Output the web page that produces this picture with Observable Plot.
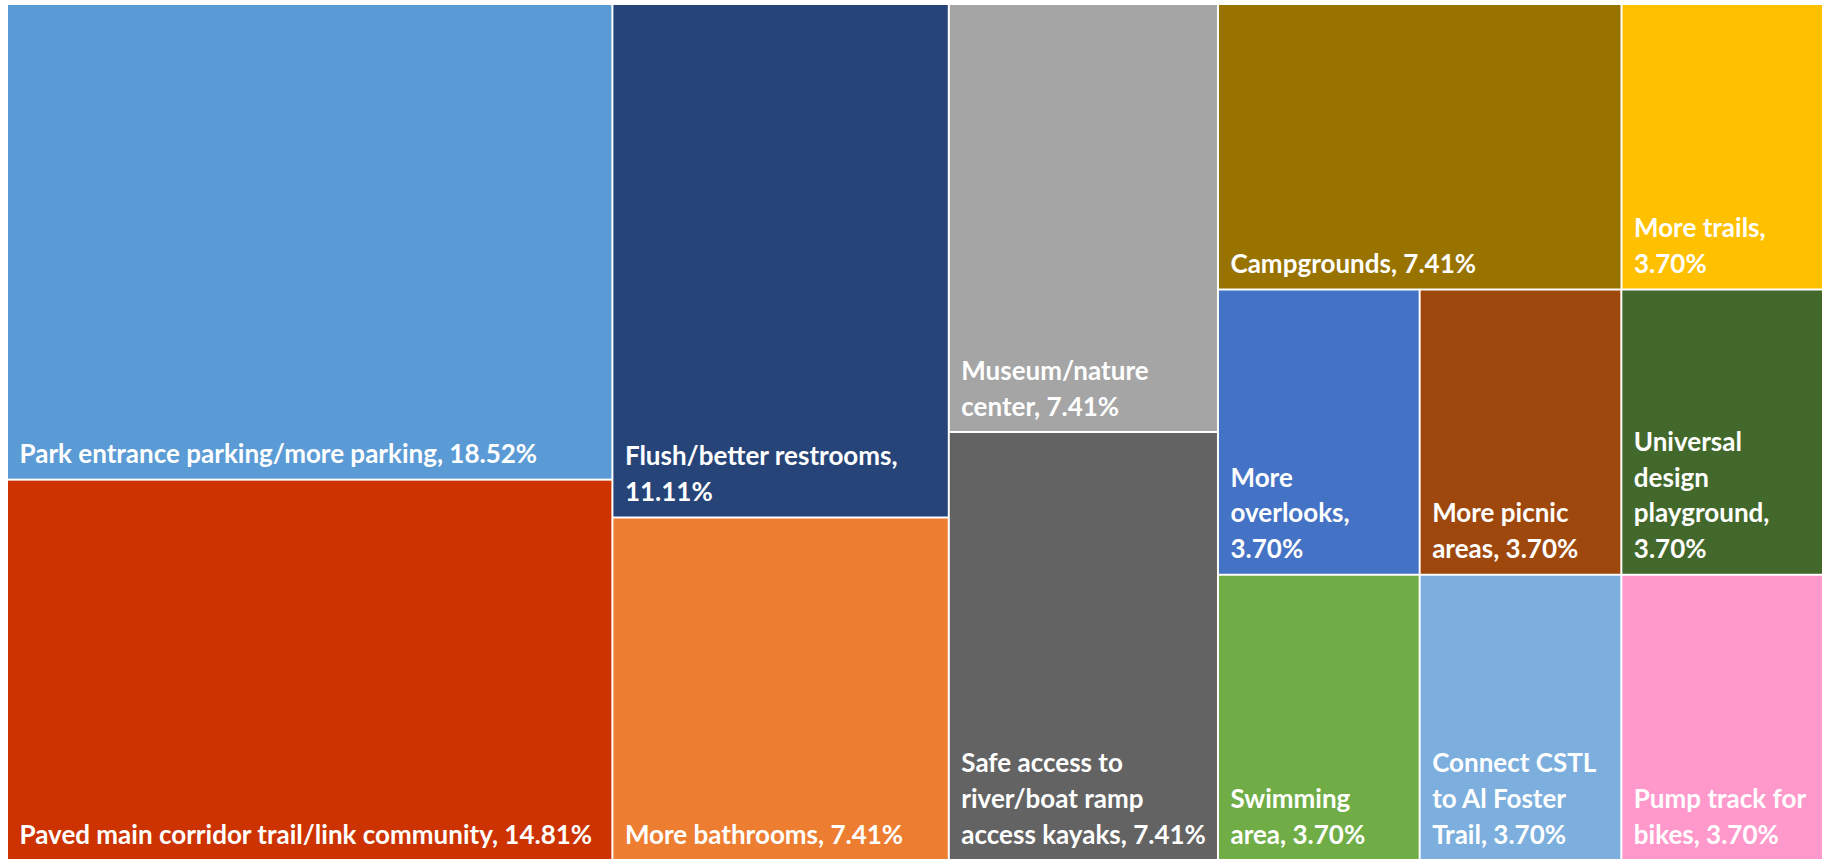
<!DOCTYPE html>
<html><head><meta charset="utf-8">
<script src="https://cdn.jsdelivr.net/npm/d3@7"></script>
<script src="https://cdn.jsdelivr.net/npm/@observablehq/plot@0.6"></script>
<style>html,body{margin:0;padding:0;background:#fff;overflow:hidden}</style>
</head><body><div id="chart"></div>
<script>
// Categories in treemap order, with their share (%) of responses
const categories = [
  "Park entrance parking/more parking",
  "Paved main corridor trail/link community",
  "Flush/better restrooms",
  "More bathrooms",
  "Museum/nature center",
  "Safe access to river/boat ramp access kayaks",
  "Campgrounds",
  "More trails",
  "More overlooks",
  "Swimming area",
  "More picnic areas",
  "Universal design playground",
  "Connect CSTL to Al Foster Trail",
  "Pump track for bikes"
];
const values = [18.52, 14.81, 11.11, 7.41, 7.41, 7.41, 7.41, 3.70, 3.70, 3.70, 3.70, 3.70, 3.70, 3.70];
const colors = [
  "#5B9BD5", "#CC3300", "#264478", "#ED7D31", "#A5A5A5", "#636363", "#997300",
  "#FFC000", "#4472C4", "#70AD47", "#9E480E", "#43682B", "#7CAFDD", "#FF99CC"
];

const W = 1816, H = 856;
const FONT_SIZE = 26, FONT = `700 ${FONT_SIZE}px Lato`;

// Squarified tiling (same as d3's) but allowing a target ratio below 1,
// which reproduces the spreadsheet-style arrangement of strips.
function squarifyTile(ratio) {
  return function(parent, x0, y0, x1, y1) {
    const nodes = parent.children, n = nodes.length;
    let value = parent.value, i0 = 0, i1 = 0;
    while (i0 < n) {
      const dx = x1 - x0, dy = y1 - y0;
      let sumValue;
      do sumValue = nodes[i1++].value; while (!sumValue && i1 < n);
      let minValue = sumValue, maxValue = sumValue;
      const alpha = Math.max(dy / dx, dx / dy) / (value * ratio);
      let beta = sumValue * sumValue * alpha;
      let minRatio = Math.max(maxValue / beta, beta / minValue);
      for (; i1 < n; ++i1) {
        const nodeValue = nodes[i1].value;
        sumValue += nodeValue;
        if (nodeValue < minValue) minValue = nodeValue;
        if (nodeValue > maxValue) maxValue = nodeValue;
        beta = sumValue * sumValue * alpha;
        const newRatio = Math.max(maxValue / beta, beta / minValue);
        if (newRatio > minRatio) { sumValue -= nodeValue; break; }
        minRatio = newRatio;
      }
      const row = {value: sumValue, children: nodes.slice(i0, i1)};
      if (dx < dy) d3.treemapDice(row, x0, y0, x1, y0 += dy * sumValue / value);
      else d3.treemapSlice(row, x0, y0, x0 += dx * sumValue / value, y1);
      value -= sumValue; i0 = i1;
    }
  };
}

const root = d3.treemap()
  .tile(squarifyTile(0.9))
  .size([W, H])(
    d3.hierarchy({children: categories.map((name, i) => ({name, value: values[i]}))})
      .sum(d => d.value || 0)
  );

const ctx = document.createElement("canvas").getContext("2d");
ctx.font = FONT;
function wrap(text, maxW) {
  const words = text.split(" ");
  const lines = [];
  let cur = "";
  for (const w of words) {
    const t = cur ? cur + " " + w : w;
    if (cur && ctx.measureText(t).width > maxW) { lines.push(cur); cur = w; }
    else cur = t;
  }
  if (cur) lines.push(cur);
  return lines.join("\n");
}

const leaves = root.leaves().map(d => {
  const label = `${d.data.name}, ${d.data.value.toFixed(2)}%`;
  return {
    name: d.data.name, value: d.data.value,
    x0: d.x0, x1: d.x1, y0: d.y0, y1: d.y1,
    label: wrap(label, (d.x1 - d.x0) - 24)
  };
});

const chart = Plot.plot({
  width: 1826, height: 860,
  marginLeft: 7, marginRight: 3, marginTop: 4, marginBottom: 0,
  x: {domain: [0, W], range: [7, 1823], axis: null},
  y: {domain: [0, H], range: [4, 860], axis: null},
  color: {domain: categories, range: colors},
  style: {background: "#fff"},
  marks: [
    Plot.rect(leaves, {x1: "x0", x2: "x1", y1: "y0", y2: "y1", fill: "name", inset: 1}),
    Plot.text(leaves, {
      x: "x0", y: "y1", text: "label",
      textAnchor: "start", lineAnchor: "bottom",
      dx: 12, dy: -17, fill: "white",
      fontSize: FONT_SIZE, fontWeight: 700, fontFamily: "Lato", lineHeight: 1.38
    })
  ]
});
document.getElementById("chart").appendChild(chart);
</script>
</body></html>
